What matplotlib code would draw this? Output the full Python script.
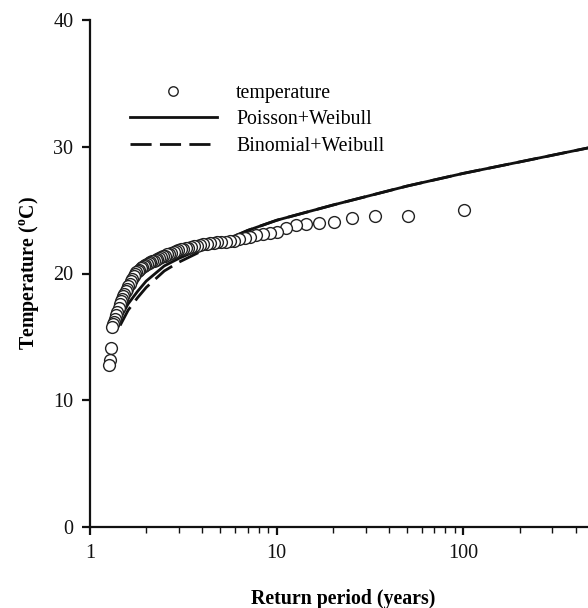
import matplotlib
matplotlib.use("Agg")
import matplotlib.pyplot as plt
from matplotlib.ticker import LogLocator, FixedLocator, NullFormatter

plt.rcParams['font.family'] = ['Liberation Serif', 'DejaVu Serif']
plt.rcParams['mathtext.fontset'] = 'custom'
plt.rcParams['mathtext.rm'] = 'Liberation Serif'
plt.rcParams['mathtext.bf'] = 'Liberation Serif:bold'

# Observed temperatures vs return period (years)
obs_period = [101.0, 50.5, 33.67, 25.25, 20.2, 16.83, 14.43, 12.63, 11.22, 10.1,
              9.18, 8.42, 7.77, 7.21, 6.73, 6.31, 5.94, 5.61, 5.32, 5.05,
              4.81, 4.59, 4.39, 4.21, 4.04, 3.885, 3.74, 3.607, 3.483, 3.367,
              3.258, 3.156, 3.06, 2.97, 2.886, 2.806, 2.73, 2.658, 2.59, 2.525,
              2.463, 2.405, 2.349, 2.295, 2.244, 2.196, 2.149, 2.104, 2.061, 2.02,
              1.98, 1.942, 1.906, 1.870, 1.836, 1.804, 1.772, 1.741, 1.712, 1.683,
              1.656, 1.629, 1.603, 1.578, 1.554, 1.530, 1.507, 1.485, 1.464, 1.443,
              1.423, 1.403, 1.384, 1.365, 1.347, 1.329, 1.312, 1.295, 1.278, 1.2625]
obs_temp = [25.0, 24.5, 24.5, 24.4, 24.1, 24.0, 23.9, 23.8, 23.6, 23.3,
            23.2, 23.15, 23.0, 22.9, 22.8, 22.7, 22.6, 22.55, 22.5, 22.45,
            22.45, 22.4, 22.4, 22.35, 22.3, 22.25, 22.2, 22.15, 22.1, 22.05,
            22.0, 21.95, 21.9, 21.85, 21.75, 21.7, 21.6, 21.55, 21.5, 21.4,
            21.35, 21.3, 21.2, 21.15, 21.1, 21.0, 20.95, 20.9, 20.8, 20.75,
            20.7, 20.6, 20.5, 20.4, 20.3, 20.2, 20.1, 20.0, 19.8, 19.6,
            19.4, 19.2, 19.0, 18.8, 18.6, 18.4, 18.2, 18.0, 17.8, 17.6,
            17.3, 17.0, 16.7, 16.4, 16.2, 16.0, 15.8, 14.1, 13.2, 12.8]

# Poisson+Weibull fitted curve
pw_period = [1.43, 1.6, 1.8, 2.0, 2.5, 3.0, 4.0, 5.0, 7.0, 10, 20, 50, 100, 200, 500]
pw_temp = [16.3, 17.6, 18.6, 19.4, 20.6, 21.2, 22.0, 22.5, 23.4, 24.2, 25.4, 26.9, 27.9, 28.8, 30.0]

# Binomial+Weibull fitted curve
bw_period = [1.45, 1.6, 1.8, 2.0, 2.5, 3.0, 4.0, 5.0, 7.0, 10, 20, 50, 100, 200, 500]
bw_temp = [15.9, 17.1, 18.1, 18.9, 20.2, 20.9, 21.8, 22.4, 23.4, 24.2, 25.4, 26.9, 27.9, 28.8, 30.0]

x_ticks = [1, 10, 100, 1000]
x_ticklabels = ['1', '10', '100', '']
y_ticks = [0, 10, 20, 30, 40]

fig = plt.figure(figsize=(5.88, 6.08), dpi=100)
ax = fig.add_axes([90/588, 81/608, (650-90)/588, 507/608])

ax.plot(obs_period, obs_temp, linestyle='none', marker='o', markersize=8.5,
        markerfacecolor='white', markeredgecolor='#222222', markeredgewidth=1.0,
        label='temperature', zorder=3)
ax.plot(pw_period, pw_temp, color='#111111', linewidth=2.0, label='Poisson+Weibull', zorder=2)
ax.plot(bw_period, bw_temp, color='#111111', linewidth=2.0, linestyle=(0, (7.6, 3.0)),
        label='Binomial+Weibull', zorder=2)

ax.set_xscale('log')
ax.set_xlim(1, 1000)
ax.set_ylim(0, 40)
ax.set_yticks(y_ticks)
ax.xaxis.set_major_locator(FixedLocator(x_ticks))
ax.set_xticklabels(x_ticklabels)
ax.xaxis.set_minor_locator(LogLocator(base=10, subs=range(2, 10)))
ax.xaxis.set_minor_formatter(NullFormatter())

for s in ['top', 'right']:
    ax.spines[s].set_visible(False)
for s in ['left', 'bottom']:
    ax.spines[s].set_linewidth(1.6)
    ax.spines[s].set_color('#111111')

ax.tick_params(axis='both', which='major', direction='out', length=6, width=1.6,
               labelsize=14.5, colors='#111111', pad=6)
ax.tick_params(axis='x', which='minor', direction='out', length=4, width=1.0, colors='#111111')

ax.set_xlabel('Return period (years)', fontsize=14.3, fontweight='bold')
ax.set_ylabel(r'Temperature ($^{\mathbf{o}}$C)', fontsize=14.3, fontweight='bold')
ax.xaxis.set_label_coords((343 - 90) / 560, -(589 - 527) / 507)
ax.yaxis.set_label_coords(-(90 - 41) / 560, 0.5)

leg = ax.legend(loc='upper left', bbox_to_anchor=(0.039, 0.91), frameon=False,
                fontsize=14.3, handlelength=4.4, handletextpad=0.95, labelspacing=0.38,
                markerscale=0.8)

fig.savefig('out.png', dpi=100)
